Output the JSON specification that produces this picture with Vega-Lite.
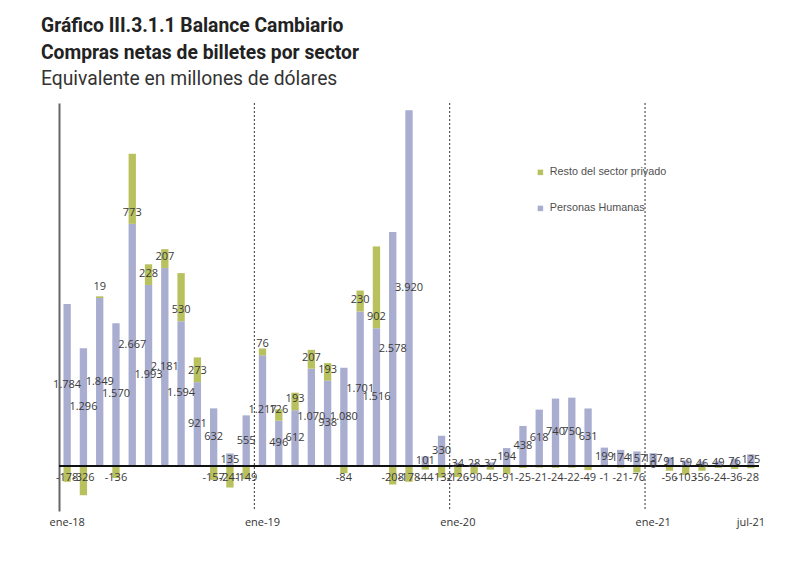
{
  "$schema": "https://vega.github.io/schema/vega-lite/v6.json",
  "width": 700,
  "height": 408,
  "autosize": {"type": "none"},
  "padding": {"left": 59, "top": 103, "right": 41, "bottom": 58},
  "background": "white",
  "title": {
    "text": ["Gráfico III.3.1.1 Balance Cambiario", "Compras netas de billetes por sector"],
    "subtitle": "Equivalente en millones de dólares",
    "anchor": "start",
    "frame": "group",
    "dx": -18,
    "offset": 13,
    "font": "Roboto",
    "fontSize": 19.3,
    "fontWeight": "bold",
    "color": "#222222",
    "lineHeight": 27,
    "subtitleFont": "Roboto",
    "subtitleFontSize": 19.3,
    "subtitleFontWeight": "normal",
    "subtitleColor": "#333333",
    "subtitlePadding": 7,
    "subtitleLineHeight": 24
  },
  "config": {
    "view": {"stroke": null},
    "locale": {"number": {"decimal": ",", "thousands": ".", "grouping": [3], "currency": ["$", ""], "minus": "-"}}
  },
  "data": {
    "values": [
      {"mes": "ene-18", "serie": "Personas Humanas", "v": 1784}, {"mes": "ene-18", "serie": "Resto del sector privado", "v": -178},
      {"mes": "feb-18", "serie": "Personas Humanas", "v": 1296}, {"mes": "feb-18", "serie": "Resto del sector privado", "v": -326},
      {"mes": "mar-18", "serie": "Personas Humanas", "v": 1849}, {"mes": "mar-18", "serie": "Resto del sector privado", "v": 19},
      {"mes": "abr-18", "serie": "Personas Humanas", "v": 1570}, {"mes": "abr-18", "serie": "Resto del sector privado", "v": -136},
      {"mes": "may-18", "serie": "Personas Humanas", "v": 2667}, {"mes": "may-18", "serie": "Resto del sector privado", "v": 773},
      {"mes": "jun-18", "serie": "Personas Humanas", "v": 1993}, {"mes": "jun-18", "serie": "Resto del sector privado", "v": 228},
      {"mes": "jul-18", "serie": "Personas Humanas", "v": 2181}, {"mes": "jul-18", "serie": "Resto del sector privado", "v": 207},
      {"mes": "ago-18", "serie": "Personas Humanas", "v": 1594}, {"mes": "ago-18", "serie": "Resto del sector privado", "v": 530},
      {"mes": "sep-18", "serie": "Personas Humanas", "v": 921}, {"mes": "sep-18", "serie": "Resto del sector privado", "v": 273},
      {"mes": "oct-18", "serie": "Personas Humanas", "v": 632}, {"mes": "oct-18", "serie": "Resto del sector privado", "v": -157},
      {"mes": "nov-18", "serie": "Personas Humanas", "v": 135}, {"mes": "nov-18", "serie": "Resto del sector privado", "v": -241},
      {"mes": "dic-18", "serie": "Personas Humanas", "v": 555}, {"mes": "dic-18", "serie": "Resto del sector privado", "v": -149},
      {"mes": "ene-19", "serie": "Personas Humanas", "v": 1217}, {"mes": "ene-19", "serie": "Resto del sector privado", "v": 76},
      {"mes": "feb-19", "serie": "Personas Humanas", "v": 496}, {"mes": "feb-19", "serie": "Resto del sector privado", "v": 126},
      {"mes": "mar-19", "serie": "Personas Humanas", "v": 612}, {"mes": "mar-19", "serie": "Resto del sector privado", "v": 193},
      {"mes": "abr-19", "serie": "Personas Humanas", "v": 1070}, {"mes": "abr-19", "serie": "Resto del sector privado", "v": 207},
      {"mes": "may-19", "serie": "Personas Humanas", "v": 938}, {"mes": "may-19", "serie": "Resto del sector privado", "v": 193},
      {"mes": "jun-19", "serie": "Personas Humanas", "v": 1080}, {"mes": "jun-19", "serie": "Resto del sector privado", "v": -84},
      {"mes": "jul-19", "serie": "Personas Humanas", "v": 1701}, {"mes": "jul-19", "serie": "Resto del sector privado", "v": 230},
      {"mes": "ago-19", "serie": "Personas Humanas", "v": 1516}, {"mes": "ago-19", "serie": "Resto del sector privado", "v": 902},
      {"mes": "sep-19", "serie": "Personas Humanas", "v": 2578}, {"mes": "sep-19", "serie": "Resto del sector privado", "v": -208},
      {"mes": "oct-19", "serie": "Personas Humanas", "v": 3920}, {"mes": "oct-19", "serie": "Resto del sector privado", "v": -178},
      {"mes": "nov-19", "serie": "Personas Humanas", "v": 101}, {"mes": "nov-19", "serie": "Resto del sector privado", "v": -44},
      {"mes": "dic-19", "serie": "Personas Humanas", "v": 330}, {"mes": "dic-19", "serie": "Resto del sector privado", "v": -132},
      {"mes": "ene-20", "serie": "Personas Humanas", "v": 34}, {"mes": "ene-20", "serie": "Resto del sector privado", "v": -126},
      {"mes": "feb-20", "serie": "Personas Humanas", "v": 28}, {"mes": "feb-20", "serie": "Resto del sector privado", "v": -90},
      {"mes": "mar-20", "serie": "Personas Humanas", "v": 37}, {"mes": "mar-20", "serie": "Resto del sector privado", "v": -45},
      {"mes": "abr-20", "serie": "Personas Humanas", "v": 194}, {"mes": "abr-20", "serie": "Resto del sector privado", "v": -91},
      {"mes": "may-20", "serie": "Personas Humanas", "v": 438}, {"mes": "may-20", "serie": "Resto del sector privado", "v": -25},
      {"mes": "jun-20", "serie": "Personas Humanas", "v": 618}, {"mes": "jun-20", "serie": "Resto del sector privado", "v": -21},
      {"mes": "jul-20", "serie": "Personas Humanas", "v": 740}, {"mes": "jul-20", "serie": "Resto del sector privado", "v": -24},
      {"mes": "ago-20", "serie": "Personas Humanas", "v": 750}, {"mes": "ago-20", "serie": "Resto del sector privado", "v": -22},
      {"mes": "sep-20", "serie": "Personas Humanas", "v": 631}, {"mes": "sep-20", "serie": "Resto del sector privado", "v": -49},
      {"mes": "oct-20", "serie": "Personas Humanas", "v": 199}, {"mes": "oct-20", "serie": "Resto del sector privado", "v": -1},
      {"mes": "nov-20", "serie": "Personas Humanas", "v": 174}, {"mes": "nov-20", "serie": "Resto del sector privado", "v": -21},
      {"mes": "dic-20", "serie": "Personas Humanas", "v": 157}, {"mes": "dic-20", "serie": "Resto del sector privado", "v": -76},
      {"mes": "ene-21", "serie": "Personas Humanas", "v": 137}, {"mes": "ene-21", "serie": "Resto del sector privado", "v": 0},
      {"mes": "feb-21", "serie": "Personas Humanas", "v": 91}, {"mes": "feb-21", "serie": "Resto del sector privado", "v": -56},
      {"mes": "mar-21", "serie": "Personas Humanas", "v": 59}, {"mes": "mar-21", "serie": "Resto del sector privado", "v": -103},
      {"mes": "abr-21", "serie": "Personas Humanas", "v": 46}, {"mes": "abr-21", "serie": "Resto del sector privado", "v": -56},
      {"mes": "may-21", "serie": "Personas Humanas", "v": 49}, {"mes": "may-21", "serie": "Resto del sector privado", "v": -24},
      {"mes": "jun-21", "serie": "Personas Humanas", "v": 76}, {"mes": "jun-21", "serie": "Resto del sector privado", "v": -36},
      {"mes": "jul-21", "serie": "Personas Humanas", "v": 125}, {"mes": "jul-21", "serie": "Resto del sector privado", "v": -28}
    ]
  },
  "transform": [
    {"stack": "v", "groupby": ["mes"], "sort": [{"field": "serie", "order": "ascending"}], "as": ["v0", "v1"]}
  ],
  "encoding": {
    "x": {
      "field": "mes",
      "type": "nominal",
      "sort": null,
      "scale": {"paddingInner": 0.55, "paddingOuter": 0.275},
      "axis": {
        "title": null,
        "values": ["ene-18", "ene-19", "ene-20", "ene-21", "jul-21"],
        "domain": false,
        "ticks": false,
        "labelAngle": 0,
        "labelFont": "Open Sans",
        "labelFontSize": 11,
        "labelColor": "#333333",
        "labelPadding": 5
      }
    }
  },
  "layer": [
    {
      "mark": {"type": "bar"},
      "encoding": {
        "y": {
          "field": "v0",
          "type": "quantitative",
          "scale": {"domain": [-500, 4000], "nice": false, "zero": false},
          "axis": {"title": null, "labels": false, "ticks": false, "grid": false, "domainColor": "#666666", "domainWidth": 2}
        },
        "y2": {"field": "v1"},
        "color": {
          "field": "serie",
          "type": "nominal",
          "scale": {"domain": ["Resto del sector privado", "Personas Humanas"], "range": ["#b9c15e", "#a9adcf"]},
          "legend": {
            "title": null,
            "orient": "none",
            "legendX": 476,
            "legendY": 64,
            "symbolType": "square",
            "symbolSize": 30,
            "symbolStrokeWidth": 0,
            "labelFont": "Liberation Sans",
            "labelFontSize": 10.8,
            "labelColor": "#505050",
            "rowPadding": 24
          }
        }
      }
    },
    {
      "mark": {"type": "rule", "color": "#111111", "strokeWidth": 1.5},
      "encoding": {"x": null, "y": {"datum": 0, "type": "quantitative"}}
    },
    {
      "transform": [
        {"filter": {"field": "serie", "equal": "Personas Humanas"}},
        {"filter": {"field": "mes", "oneOf": ["ene-19", "ene-20", "ene-21"]}}
      ],
      "mark": {"type": "rule", "color": "#333333", "strokeWidth": 1, "strokeDash": [2, 2], "xOffset": -8.14},
      "encoding": {}
    },
    {
      "transform": [
        {"filter": {"field": "serie", "equal": "Personas Humanas"}},
        {"fold": ["v0", "v1"], "as": ["k", "pos"]}
      ],
      "mark": {"type": "text", "font": "Open Sans", "fontSize": 11, "color": "#3a3a3a", "baseline": "middle"},
      "encoding": {
        "y": {"field": "pos", "type": "quantitative", "aggregate": "mean"},
        "text": {"field": "v", "type": "quantitative", "aggregate": "max", "format": ",.0f"}
      }
    },
    {
      "transform": [
        {"filter": {"field": "serie", "equal": "Resto del sector privado"}},
        {"filter": {"field": "v", "gt": 0}}
      ],
      "mark": {"type": "text", "font": "Open Sans", "fontSize": 11, "color": "#3a3a3a", "baseline": "middle", "dy": -11},
      "encoding": {
        "y": {"field": "v0", "type": "quantitative"},
        "text": {"field": "v", "type": "quantitative", "format": ",.0f"}
      }
    },
    {
      "transform": [
        {"filter": {"field": "serie", "equal": "Resto del sector privado"}},
        {"filter": {"field": "v", "lte": 0}}
      ],
      "mark": {"type": "text", "font": "Open Sans", "fontSize": 11, "color": "#3a3a3a", "baseline": "middle", "dy": 12},
      "encoding": {
        "y": {"field": "v0", "type": "quantitative"},
        "text": {"field": "v", "type": "quantitative", "format": ",.0f"}
      }
    }
  ]
}
